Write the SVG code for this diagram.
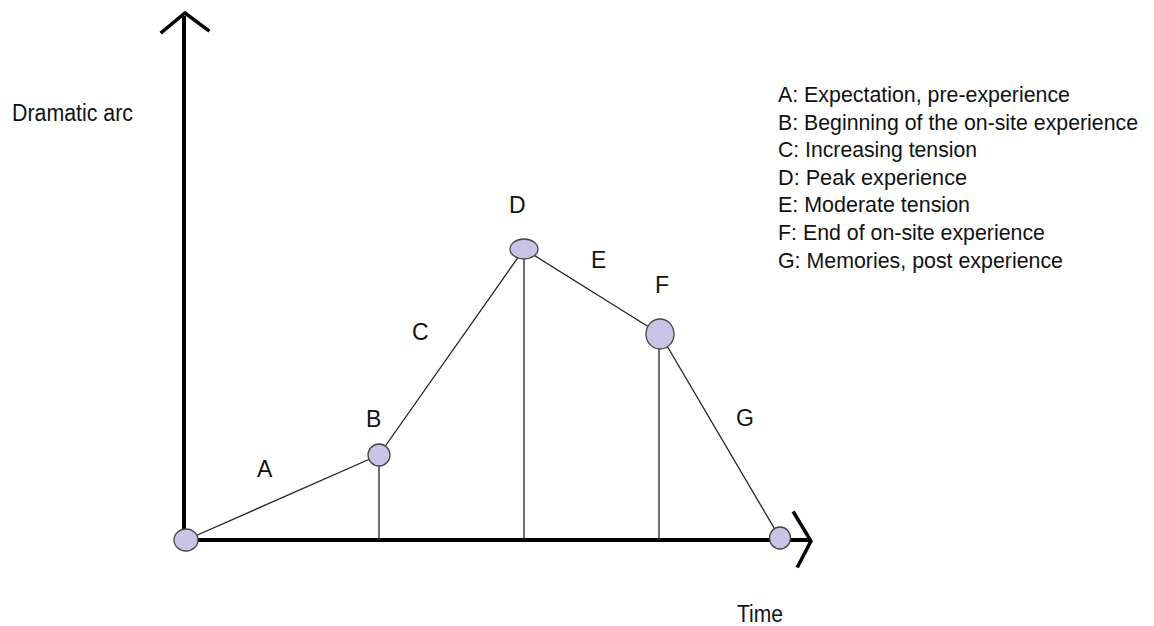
<svg xmlns="http://www.w3.org/2000/svg" width="1154" height="626" viewBox="0 0 1154 626">
<style>
text{font-family:"Liberation Sans",Arial,sans-serif;font-size:23px;fill:#111}
.leg{font-size:22.5px}
.axis{stroke:#000;stroke-width:4;fill:none;stroke-linecap:butt}
.head{stroke:#000;stroke-width:3.5;fill:none;stroke-linecap:square}
.ln{stroke:#222;stroke-width:1.3;fill:none}
.node{fill:#c9c3e6;stroke:#444;stroke-width:1.3}
</style>
<rect width="1154" height="626" fill="#fff"/>
<g id="connectors">
<line class="axis" x1="184" y1="16" x2="184" y2="540"/>
<polyline class="head" points="162,32 185,13 208,30"/>
<line class="axis" x1="184" y1="540" x2="810" y2="540"/>
<polyline class="head" points="794,513 811,541 798,566"/>
<line class="ln" x1="186" y1="540" x2="379" y2="455"/>
<line class="ln" x1="379" y1="455" x2="524" y2="249"/>
<line class="ln" x1="524" y1="249" x2="660" y2="334"/>
<line class="ln" x1="660" y1="334" x2="780" y2="538"/>
<line class="ln" x1="379" y1="466" x2="379" y2="540"/>
<line class="ln" x1="524" y1="259" x2="524" y2="540"/>
<line class="ln" x1="659" y1="348" x2="659" y2="540"/>
</g>
<g id="node-origin"><ellipse class="node" cx="186" cy="540" rx="12" ry="11"/></g>
<g id="node-B"><ellipse class="node" cx="379" cy="455" rx="11" ry="11"/></g>
<g id="node-D"><ellipse class="node" cx="524" cy="249" rx="14" ry="10"/></g>
<g id="node-F"><ellipse class="node" cx="660" cy="334" rx="14" ry="15"/></g>
<g id="node-end"><ellipse class="node" cx="780" cy="538" rx="10.5" ry="11"/></g>
<g id="labels">
<text x="257" y="477">A</text>
<text x="366" y="427">B</text>
<text x="412" y="340">C</text>
<text x="509" y="213">D</text>
<text x="591" y="268">E</text>
<text x="655" y="293">F</text>
<text x="736" y="426">G</text>
<text x="12" y="121" textLength="121" lengthAdjust="spacingAndGlyphs">Dramatic arc</text>
<text x="737" y="622" textLength="46" lengthAdjust="spacingAndGlyphs">Time</text>
</g>
<g id="legend">
<text class="leg" x="778" y="102" textLength="292" lengthAdjust="spacingAndGlyphs">A: Expectation, pre-experience</text>
<text class="leg" x="778" y="130" textLength="360" lengthAdjust="spacingAndGlyphs">B: Beginning of the on-site experience</text>
<text class="leg" x="778" y="157" textLength="199" lengthAdjust="spacingAndGlyphs">C: Increasing tension</text>
<text class="leg" x="778" y="185" textLength="189" lengthAdjust="spacingAndGlyphs">D: Peak experience</text>
<text class="leg" x="778" y="212" textLength="192" lengthAdjust="spacingAndGlyphs">E: Moderate tension</text>
<text class="leg" x="778" y="240" textLength="267" lengthAdjust="spacingAndGlyphs">F: End of on-site experience</text>
<text class="leg" x="778" y="268" textLength="285" lengthAdjust="spacingAndGlyphs">G: Memories, post experience</text>
</g>
</svg>
